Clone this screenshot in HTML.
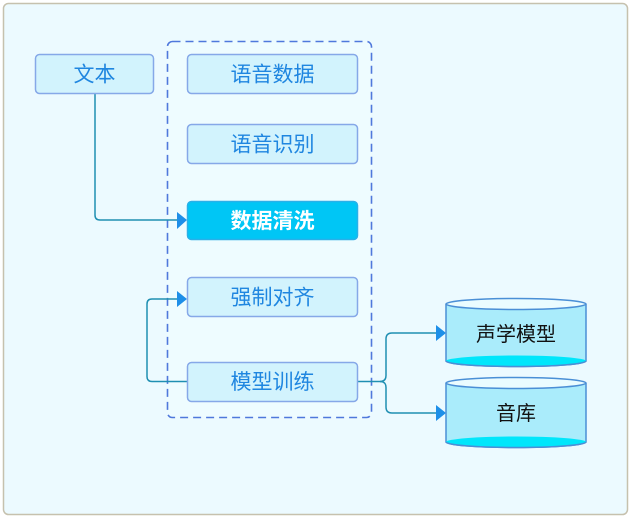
<!DOCTYPE html>
<html><head><meta charset="utf-8"><style>
html,body{margin:0;padding:0;background:#fff;}
svg{display:block;}
text{font-family:"Liberation Sans","Noto Sans CJK SC",sans-serif;}
</style></head><body>
<svg width="631" height="519" viewBox="0 0 631 519" xmlns="http://www.w3.org/2000/svg">
<rect x="3.5" y="3.5" width="624" height="511" rx="5" fill="#ecfaff" stroke="#c6c1ae" stroke-width="1.5"/>
<rect x="167.5" y="41.5" width="204" height="376" rx="5" fill="#eefcff" stroke="#4f78dc" stroke-width="1.6" stroke-dasharray="8,5"/>
<g fill="none" stroke="#1f8fb2" stroke-width="1.5">
<path d="M95,93 V215 Q95,220 100,220 H178"/>
<path d="M187,381.5 H152 Q147,381.5 147,376.5 V304 Q147,299 152,299 H178"/>
<path d="M358,381.5 H380 Q386,381.5 386,375.5 V339 Q386,333 392,333 H437"/>
<path d="M380,381.5 Q386,381.5 386,387.5 V407 Q386,413 392,413 H437"/>
</g>
<g fill="#1e8fe8">
<polygon points="177,212 187,220 177,229"/>
<polygon points="177,291 187,299 177,307"/>
<polygon points="436,325 446,333 436,341"/>
<polygon points="436,405 446,413 436,421"/>
</g>
<g stroke="#86a8e8" stroke-width="1.5" fill="#d2f3fd">
<rect x="35.5" y="54.5" width="118" height="39" rx="4"/>
<rect x="187.5" y="54.5" width="170" height="39" rx="4"/>
<rect x="187.5" y="124.5" width="170" height="39" rx="4"/>
<rect x="187.5" y="277.5" width="170" height="39" rx="4"/>
<rect x="187.5" y="362.5" width="170" height="39" rx="4"/>
</g>
<rect x="187.5" y="201.5" width="170" height="38" rx="4" fill="#00c6f5" stroke="#2ab0e8" stroke-width="1.5"/>
<g font-size="21" fill="#1f86e0" text-anchor="middle">
<text x="94.5" y="81.5">文本</text>
<text x="272.5" y="81.5">语音数据</text>
<text x="272.5" y="151.5">语音识别</text>
<text x="272.5" y="304.5">强制对齐</text>
<text x="272.5" y="389">模型训练</text>
</g>
<text x="272.5" y="228" font-size="21" font-weight="bold" fill="#ffffff" text-anchor="middle">数据清洗</text>
<g stroke="#4a8fd6" stroke-width="1.5">
<path d="M446,304 V361 A70,5.5 0 0 0 586,361 V304" fill="#aaecfb"/>
<ellipse cx="516" cy="361" rx="70" ry="5.5" fill="#00e6fb" stroke="none"/>
<path d="M446,361 A70,5.5 0 0 0 586,361" fill="none"/>
<ellipse cx="516" cy="304" rx="70" ry="5.5" fill="#eafcff"/>
<path d="M446,383 V442 A70,5.5 0 0 0 586,442 V383" fill="#aaecfb"/>
<ellipse cx="516" cy="442" rx="70" ry="5.5" fill="#00e6fb" stroke="none"/>
<path d="M446,442 A70,5.5 0 0 0 586,442" fill="none"/>
<ellipse cx="516" cy="383" rx="70" ry="5.5" fill="#eafcff"/>
</g>
<g font-size="20" fill="#111" text-anchor="middle">
<text x="516" y="341">声学模型</text>
<text x="516" y="420">音库</text>
</g>
</svg>
</body></html>
